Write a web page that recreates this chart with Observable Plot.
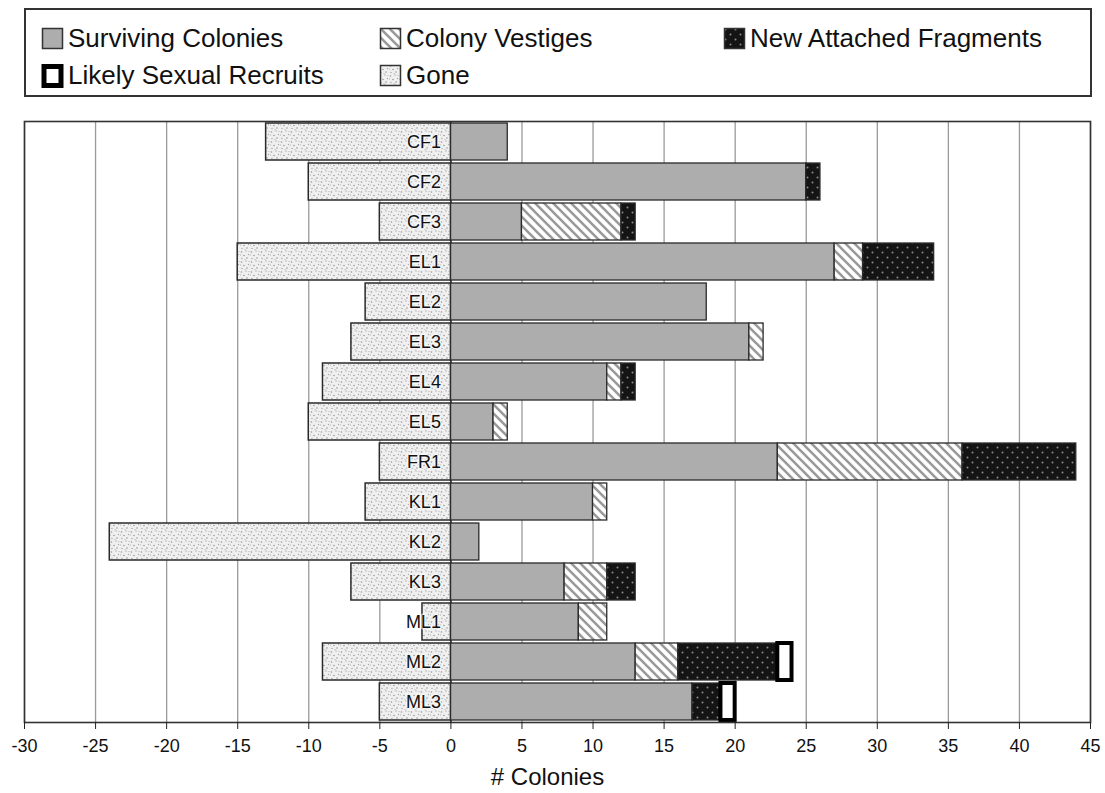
<!DOCTYPE html>
<html><head><meta charset="utf-8">
<script src="https://cdn.jsdelivr.net/npm/d3@7"></script>
<script src="https://cdn.jsdelivr.net/npm/@observablehq/plot@0.6"></script>
<style>
body{margin:0;background:#fff;font-family:"Liberation Sans",Arial,Helvetica,sans-serif;color:#111;}
#legend{position:absolute;left:24px;top:8px;width:1064px;height:85px;border:2px solid #333;box-sizing:content-box;}
.item{position:absolute;display:flex;align-items:center;font-size:26px;white-space:nowrap;}
.item svg{margin-right:3px;}
#chart{position:absolute;left:0;top:100px;}
</style></head><body>
<svg width="0" height="0" style="position:absolute">
 <defs>
  <pattern id="pGone" width="10" height="10" patternUnits="userSpaceOnUse">
   <rect width="10" height="10" fill="#f0f0f0"/>
   <circle cx="1.5" cy="2" r="0.8" fill="#999"/>
   <circle cx="6" cy="1" r="0.7" fill="#a5a5a5"/>
   <circle cx="4" cy="5.5" r="0.8" fill="#999"/>
   <circle cx="8.5" cy="4.5" r="0.7" fill="#a5a5a5"/>
   <circle cx="2" cy="8.5" r="0.7" fill="#a0a0a0"/>
   <circle cx="7" cy="8" r="0.8" fill="#999"/>
   <circle cx="9" cy="1.5" r="0.6" fill="#b0b0b0"/>
   <circle cx="0.5" cy="5" r="0.6" fill="#b0b0b0"/>
   <circle cx="5" cy="9.5" r="0.6" fill="#b0b0b0"/>
  </pattern>
  <pattern id="pVest" width="9" height="9" patternUnits="userSpaceOnUse">
   <rect width="9" height="9" fill="#fff"/>
   <path d="M-2,-2 L11,11 M-2,7 L2,11 M7,-2 L11,2" stroke="#9a9a9a" stroke-width="2.6"/>
  </pattern>
  <pattern id="pFrag" width="10" height="10" patternUnits="userSpaceOnUse">
   <rect width="10" height="10" fill="#141414"/>
   <circle cx="2.5" cy="2.5" r="1" fill="#8a8a8a"/>
   <circle cx="7.5" cy="7.5" r="1" fill="#8a8a8a"/>
  </pattern>
 </defs>
</svg>
<div id="legend"></div>
<div id="chart"></div>
<script>
const sites = ["CF1","CF2","CF3","EL1","EL2","EL3","EL4","EL5","FR1","KL1","KL2","KL3","ML1","ML2","ML3"];
const surviving = [4,25,5,27,18,21,11,3,23,10,2,8,9,13,17];
const vestiges  = [0,0,7,2,0,1,1,1,13,1,0,3,2,3,0];
const fragments = [0,1,1,5,0,0,1,0,8,0,0,2,0,7,2];
const recruits  = [0,0,0,0,0,0,0,0,0,0,0,0,0,1,1];
const gone      = [13,10,5,15,6,7,9,10,5,6,24,7,2,9,5];
const xTicks = [-30,-25,-20,-15,-10,-5,0,5,10,15,20,25,30,35,40,45];

const seriesNames = ["Surviving Colonies","Colony Vestiges","New Attached Fragments","Likely Sexual Recruits","Gone"];
const seriesFills = ["#adadad","url(#pVest)","url(#pFrag)","#fff","url(#pGone)"];
const seriesStrokeW = [1.3,1.3,1.3,4,1.5];
const seriesValues = [surviving, vestiges, fragments, recruits, gone.map(v => -v)];

const rows = [];
seriesNames.forEach((s, i) => {
  sites.forEach((site, j) => {
    const v = seriesValues[i][j];
    if (v !== 0) rows.push({site, series: s, value: v, sw: seriesStrokeW[i]});
  });
});

// legend
const legendPos = [
  {name:"Surviving Colonies", left:15, top:29},
  {name:"Colony Vestiges", left:353, top:29},
  {name:"New Attached Fragments", left:697, top:29},
  {name:"Likely Sexual Recruits", left:15, top:66},
  {name:"Gone", left:353, top:66}
];
const legend = document.getElementById("legend");
legendPos.forEach(p => {
  const i = seriesNames.indexOf(p.name);
  const d = document.createElement("div");
  d.className = "item";
  d.style.left = p.left + "px";
  d.style.top = (p.top - 16) + "px";
  const sw = i === 3
    ? `<svg width="24" height="24"><rect x="3" y="2.5" width="17" height="19" fill="#fff" stroke="#000" stroke-width="5"/></svg>`
    : `<svg width="24" height="24"><rect x="1.5" y="1.5" width="20" height="20" fill="${seriesFills[i]}" stroke="#333" stroke-width="1.5"/></svg>`;
  d.innerHTML = sw + `<span>${p.name}</span>`;
  legend.appendChild(d);
});

const chart = Plot.plot({
  width: 1105,
  height: 693,
  marginTop: 21,
  marginBottom: 71,
  marginLeft: 24,
  marginRight: 15,
  style: {fontFamily: '"Liberation Sans", Arial, sans-serif', background: "#fff", color: "#111"},
  x: {domain: [-30, 45], axis: null},
  y: {domain: sites, paddingInner: 0.075, paddingOuter: 0.02, axis: null},
  color: {type: "ordinal", domain: seriesNames, range: seriesFills},
  marks: [
    Plot.ruleX(xTicks, {stroke: "#9a9a9a", strokeWidth: 1.3}),
    Plot.ruleX([0], {stroke: "#222", strokeWidth: 1.5}),
    Plot.barX(rows, Plot.stackX({
      y: "site", x: "value", fill: "series", order: seriesNames,
      stroke: d => d.series === "Likely Sexual Recruits" ? "#000" : "#2a2a2a",
      strokeWidth: "sw"
    })),
    Plot.text(sites, {x: d => 0, y: d => d, dx: -10, textAnchor: "end", fontSize: 18, fill: "#111",
      stroke: "#fff", strokeWidth: 3, strokeOpacity: 0.6}),
    Plot.frame({stroke: "#333", strokeWidth: 1.6}),
    Plot.axisX({ticks: xTicks, tickFormat: d => String(d), tickSize: 7, tickPadding: 10, fontSize: 18, label: null, stroke: "#222"}),
    Plot.text(["# Colonies"], {frameAnchor: "bottom", dx: -10, dy: 62, fontSize: 24, fill: "#111"})
  ]
});
document.getElementById("chart").appendChild(chart);
</script>
</body></html>
